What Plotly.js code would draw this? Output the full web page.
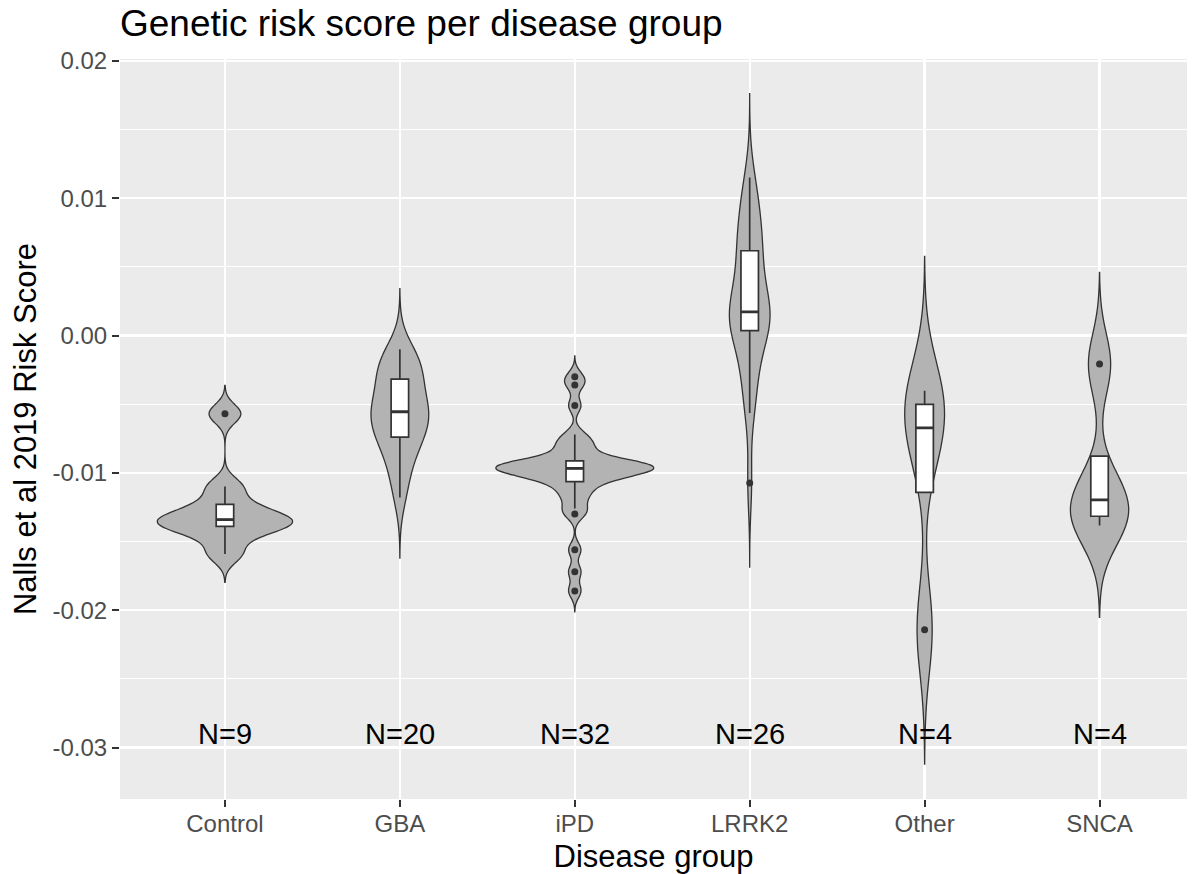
<!DOCTYPE html>
<html>
<head>
<meta charset="utf-8">
<script src="https://cdn.plot.ly/plotly-3.0.1.min.js"></script>
<style>
  html, body { margin: 0; padding: 0; background: #ffffff; }
  #chart { width: 1197px; height: 874px; }
</style>
</head>
<body>
<div id="chart"></div>
<script>
// Disease groups, in axis order
const categories = ['Control', 'GBA', 'iPD', 'LRRK2', 'Other', 'SNCA'];

// Nalls et al 2019 genetic risk score of each participant, per group
const scoresControl = [-0.0159, -0.0145, -0.0139, -0.0136, -0.0134, -0.0131, -0.0123, -0.0110, -0.0057];
const scoresGBA = [-0.0118, -0.0103, -0.0092, -0.0083, -0.0077, -0.0073, -0.0068, -0.0064, -0.0060, -0.0057,
                   -0.0054, -0.0051, -0.0047, -0.0040, -0.0033, -0.0028, -0.0024, -0.0020, -0.0015, -0.0010];
const scoresIPD = [-0.0186, -0.0172, -0.0156, -0.0130, -0.0126, -0.0118, -0.0114, -0.0109, -0.01055, -0.0104,
                   -0.01025, -0.0101, -0.00995, -0.0098, -0.00975, -0.0097, -0.00964, -0.0096, -0.00953, -0.00946,
                   -0.0094, -0.00934, -0.00927, -0.0092, -0.0089, -0.0084, -0.0080, -0.0077, -0.0072, -0.0051,
                   -0.0036, -0.0030];
const scoresLRRK2 = [-0.01074, -0.00564, -0.0043, -0.0031, -0.0020, -0.0010, 0.00027, 0.0006, 0.0009, 0.0011,
                     0.0013, 0.0015, 0.0017, 0.00176, 0.0025, 0.0033, 0.0041, 0.0049, 0.0058, 0.0063,
                     0.0069, 0.0076, 0.0084, 0.0093, 0.0103, 0.01151];
const scoresOther = [-0.02143, -0.00809, -0.00535, -0.00402];
const scoresSNCA = [-0.01384, -0.01293, -0.01101, -0.00208];

const groupScores = [scoresControl, scoresGBA, scoresIPD, scoresLRRK2, scoresOther, scoresSNCA];

// Y axis ticks (hyphen minus, two decimals)
const yTickValues = [-0.03, -0.02, -0.01, 0, 0.01, 0.02];
const yTickLabels = ['-0.03', '-0.02', '-0.01', '0.00', '0.01', '0.02'];

// ---- statistics (R conventions: type-7 quantiles, nrd0 bandwidth) ----
function quantile7(sorted, p) {
  const h = (sorted.length - 1) * p;
  const lo = Math.floor(h), hi = Math.ceil(h);
  return sorted[lo] + (h - lo) * (sorted[hi] - sorted[lo]);
}
function stdev(v) {
  const m = v.reduce((a, b) => a + b, 0) / v.length;
  return Math.sqrt(v.reduce((a, b) => a + (b - m) * (b - m), 0) / (v.length - 1));
}
function bwNrd0(sorted) {
  const iqr = quantile7(sorted, 0.75) - quantile7(sorted, 0.25);
  let lo = Math.min(stdev(sorted), iqr / 1.34);
  if (!(lo > 0)) lo = stdev(sorted) || Math.abs(sorted[0]) || 1;
  return 0.9 * lo * Math.pow(sorted.length, -0.2);
}
function kdePeak(sorted, bw, from, to) {
  const norm = 1 / (sorted.length * bw * Math.sqrt(2 * Math.PI));
  let peak = 0;
  for (let i = 0; i < 512; i++) {
    const t = from + (to - from) * i / 511;
    let s = 0;
    for (const v of sorted) { const u = (t - v) / bw; s += Math.exp(-0.5 * u * u); }
    peak = Math.max(peak, s * norm);
  }
  return peak;
}

const groups = categories.map((cat, i) => {
  const sorted = groupScores[i].slice().sort((a, b) => a - b);
  const bw = bwNrd0(sorted);
  const span = [sorted[0] - 3 * bw, sorted[sorted.length - 1] + 3 * bw];
  const q1 = quantile7(sorted, 0.25), med = quantile7(sorted, 0.5), q3 = quantile7(sorted, 0.75);
  const iqr = q3 - q1;
  const isIn = v => v >= q1 - 1.5 * iqr && v <= q3 + 1.5 * iqr;
  const inside = sorted.filter(isIn);
  return {
    cat, values: groupScores[i], n: sorted.length, bw, span, q1, med, q3,
    lower: Math.min(inside[0], q1),
    upper: Math.max(inside[inside.length - 1], q3),
    outliers: sorted.filter(v => !isIn(v)),
    peak: kdePeak(sorted, bw, span[0], span[1])
  };
});
// equal-area scaling: the densest violin gets the full 0.9 width
const maxPeak = Math.max(...groups.map(g => g.peak));

const ink = '#333333';
const traces = [];

groups.forEach(g => {
  traces.push({
    type: 'violin',
    x: g.values.map(() => g.cat),
    y: g.values,
    bandwidth: g.bw,
    spanmode: 'manual',
    span: g.span,
    scalemode: 'width',
    width: 0.9 * g.peak / maxPeak,
    fillcolor: '#B3B3B3',
    line: { color: ink, width: 1.3 },
    points: false,
    box: { visible: false },
    meanline: { visible: false },
    hoverinfo: 'skip',
    showlegend: false
  });
});

groups.forEach(g => {
  traces.push({
    type: 'box',
    x: [g.cat],
    q1: [g.q1], median: [g.med], q3: [g.q3],
    lowerfence: [g.lower], upperfence: [g.upper],
    width: 0.1,
    whiskerwidth: 0,
    fillcolor: '#FFFFFF',
    line: { color: ink, width: 1.7 },
    boxpoints: false,
    hoverinfo: 'skip',
    showlegend: false
  });
  // heavier median bar
  traces.push({
    type: 'box',
    x: [g.cat],
    q1: [g.med], median: [g.med], q3: [g.med],
    lowerfence: [g.med], upperfence: [g.med],
    width: 0.1,
    whiskerwidth: 0,
    fillcolor: 'rgba(0,0,0,0)',
    line: { color: ink, width: 2.8 },
    boxpoints: false,
    hoverinfo: 'skip',
    showlegend: false
  });
});

traces.push({
  type: 'scatter',
  mode: 'markers',
  x: groups.flatMap(g => g.outliers.map(() => g.cat)),
  y: groups.flatMap(g => g.outliers),
  marker: { color: ink, size: 7 },
  hoverinfo: 'skip',
  showlegend: false
});

const labelY = -0.029;
const annotations = groups.map(g => ({
  x: g.cat, y: labelY, xref: 'x', yref: 'y',
  text: 'N=' + g.n,
  showarrow: false,
  xanchor: 'center', yanchor: 'middle',
  font: { size: 29, color: '#000000' }
}));

const layout = {
  width: 1197,
  height: 874,
  paper_bgcolor: '#FFFFFF',
  plot_bgcolor: '#EBEBEB',
  margin: { l: 120, r: 10, t: 59, b: 75 },
  font: { family: '"Liberation Sans", Arial, Helvetica, sans-serif', color: '#000000' },
  showlegend: false,
  violinmode: 'overlay',
  boxmode: 'overlay',
  title: {
    text: 'Genetic risk score per disease group',
    font: { size: 37, color: '#000000' },
    x: 0, xref: 'paper', xanchor: 'left',
    y: 1 - 23 / 874, yref: 'container', yanchor: 'middle'
  },
  xaxis: {
    type: 'category',
    categoryorder: 'array',
    categoryarray: categories,
    range: [-0.6, 5.5],
    showgrid: true, gridcolor: '#FFFFFF', gridwidth: 2.4,
    zeroline: false, showline: false,
    ticks: 'outside', ticklen: 7, tickwidth: 2, tickcolor: ink,
    ticklabelstandoff: -4,
    tickfont: { size: 24, color: '#4D4D4D' },
    title: { text: 'Disease group', font: { size: 31, color: '#000000' }, standoff: 10 }
  },
  yaxis: {
    range: [-0.03375, 0.02014],
    tickmode: 'array',
    tickvals: yTickValues,
    ticktext: yTickLabels,
    showgrid: true, gridcolor: '#FFFFFF', gridwidth: 2.4,
    minor: { tickmode: 'linear', tick0: 0.005, dtick: 0.01, showgrid: true, gridcolor: '#FFFFFF', gridwidth: 1.2, ticks: '' },
    zeroline: false, showline: false,
    ticks: 'outside', ticklen: 7, tickwidth: 2, tickcolor: ink,
    tickfont: { size: 24, color: '#4D4D4D' },
    title: { text: 'Nalls et al 2019 Risk Score', font: { size: 31, color: '#000000' }, standoff: 6 }
  },
  annotations: annotations
};

Plotly.newPlot('chart', traces, layout, { displayModeBar: false, staticPlot: true });
</script>
</body>
</html>
